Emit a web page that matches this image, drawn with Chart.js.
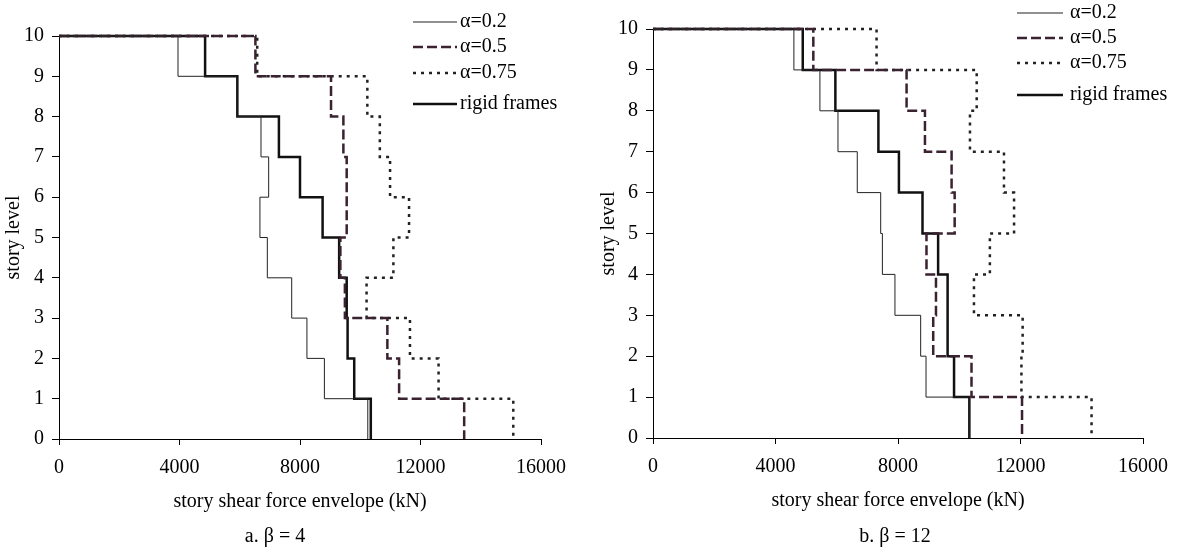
<!DOCTYPE html>
<html>
<head>
<meta charset="utf-8">
<script src="https://cdn.jsdelivr.net/npm/chart.js@4.4.0/dist/chart.umd.min.js"></script>
<style>
  body { margin: 0; background: #fff; }
  #wrap { position: relative; width: 1179px; height: 550px; }
  canvas { position: absolute; top: 0; }
</style>
</head>
<body>
<div id="wrap">
  <canvas id="chartA" width="595" height="550" style="left:0"></canvas>
  <canvas id="chartB" width="584" height="550" style="left:595px"></canvas>
</div>
<script>
// Start Data
// story number 1..10 (story i sits between level i-1 and level i)
const stories = [1, 2, 3, 4, 5, 6, 7, 8, 9, 10];
const seriesNames = ['α=0.2', 'α=0.5', 'α=0.75', 'rigid frames'];
const xTicks = [0, 4000, 8000, 12000, 16000];

// beta = 4, story shear envelope (kN), story 1 .. story 10
const b4Alpha02  = [10250, 8810, 8230, 7725, 6915, 6670, 6960, 6705, 5910, 3950];
const b4Alpha05  = [13450, 11290, 10900, 9490, 9340, 9550, 9550, 9440, 9030, 6520];
const b4Alpha075 = [15080, 12600, 11650, 10210, 11100, 11620, 10990, 10650, 10235, 6580];
const b4Rigid    = [10350, 9800, 9580, 9550, 9300, 8750, 8000, 7300, 5920, 4850];

// beta = 12
const b12Alpha02  = [10330, 8915, 8740, 7900, 7490, 7435, 6670, 6040, 5450, 4600];
const b12Alpha05  = [12050, 10400, 9150, 9240, 8930, 9850, 9750, 8880, 8280, 5235];
const b12Alpha075 = [14320, 12030, 12070, 10480, 11000, 11790, 11460, 10350, 10570, 7300];
const b12Rigid    = [10330, 9830, 9620, 9620, 9310, 8800, 8030, 7360, 5955, 4890];
// End Data

Chart.defaults.color = '#000';
Chart.defaults.font.family = '"Liberation Serif", "Times New Roman", serif';
Chart.defaults.font.size = 20;

const lineStyles = [
  { borderColor: '#222', borderWidth: 1, borderDash: [] },
  { borderColor: '#3a2230', borderWidth: 2.5, borderDash: [10, 4] },
  { borderColor: '#222', borderWidth: 2.5, borderDash: [3, 5] },
  { borderColor: '#111', borderWidth: 2.5, borderDash: [] }
];

// turn story shears into the step outline: top level first, then down
function envelope(shear) {
  const pts = [{ x: 0, y: stories[stories.length - 1] }];
  for (let i = shear.length - 1; i >= 0; i--) {
    pts.push({ x: shear[i], y: stories[i] - 1 });
  }
  return pts;
}

function buildSets(list) {
  return list.map((shear, i) => Object.assign({
    label: seriesNames[i],
    data: envelope(shear),
    stepped: true,
    pointRadius: 0,
    fill: false,
    clip: 6
  }, lineStyles[i]));
}

// legend with line samples + caption under the chart
const legendAndCaption = {
  id: 'legendAndCaption',
  afterDraw(chart, args, opts) {
    const c = chart.ctx, area = chart.chartArea;
    c.save();
    c.font = '20px "Liberation Serif", "Times New Roman", serif';
    c.fillStyle = '#000';
    c.textBaseline = 'middle';
    chart.data.datasets.forEach((ds, i) => {
      const y = area.top + opts.rows[i];
      c.beginPath();
      c.strokeStyle = ds.borderColor;
      c.lineWidth = ds.borderWidth;
      c.setLineDash(ds.borderDash);
      c.moveTo(area.right + opts.lineFrom, y);
      c.lineTo(area.right + opts.lineTo, y);
      c.stroke();
      c.fillText(ds.label, area.right + opts.textAt, y);
    });
    c.setLineDash([]);
    c.textAlign = 'center';
    c.fillText(opts.caption, opts.captionX, opts.captionY);
    c.restore();
  }
};

function makeChart(id, series, pad, yWidth, legendOpts) {
  return new Chart(document.getElementById(id), {
    type: 'line',
    data: { datasets: buildSets(series) },
    plugins: [legendAndCaption],
    options: {
      responsive: false,
      animation: false,
      devicePixelRatio: 1,
      layout: { padding: pad },
      plugins: {
        legend: { display: false },
        tooltip: { enabled: false },
        legendAndCaption: legendOpts
      },
      scales: {
        x: {
          type: 'linear',
          min: 0,
          max: 16000,
          afterBuildTicks: s => { s.ticks = xTicks.map(v => ({ value: v })); },
          ticks: { callback: v => String(v), padding: 11, maxRotation: 0 },
          grid: { drawOnChartArea: false, tickLength: 6, color: '#000' },
          border: { color: '#000', width: 1 },
          title: { display: true, text: 'story shear force envelope (kN)', padding: 0 },
          afterFit: s => { s.height = 75; }
        },
        y: {
          type: 'linear',
          min: 0,
          max: 10,
          ticks: { stepSize: 1, padding: 8 },
          grid: { drawOnChartArea: false, tickLength: 7, color: '#000' },
          border: { color: '#000', width: 1 },
          title: { display: true, text: 'story level', padding: { top: 2, bottom: 0 } },
          afterFit: s => { s.width = yWidth; }
        }
      }
    }
  });
}

// Start a. beta = 4
makeChart('chartA', [b4Alpha02, b4Alpha05, b4Alpha075, b4Rigid],
  { top: 36, right: 54, bottom: 36, left: 0 }, 59,
  { rows: [-14, 11, 37, 68], lineFrom: -128, lineTo: -84, textAt: -81,
    caption: 'a. β = 4', captionX: 275, captionY: 537 });
// End a. beta = 4

// Start b. beta = 12
makeChart('chartB', [b12Alpha02, b12Alpha05, b12Alpha075, b12Rigid],
  { top: 29, right: 36, bottom: 37, left: 0 }, 58,
  { rows: [-16, 9, 34, 66], lineFrom: -126, lineTo: -80, textAt: -73,
    caption: 'b. β = 12', captionX: 300, captionY: 537 });
// End b. beta = 12
</script>
</body>
</html>
